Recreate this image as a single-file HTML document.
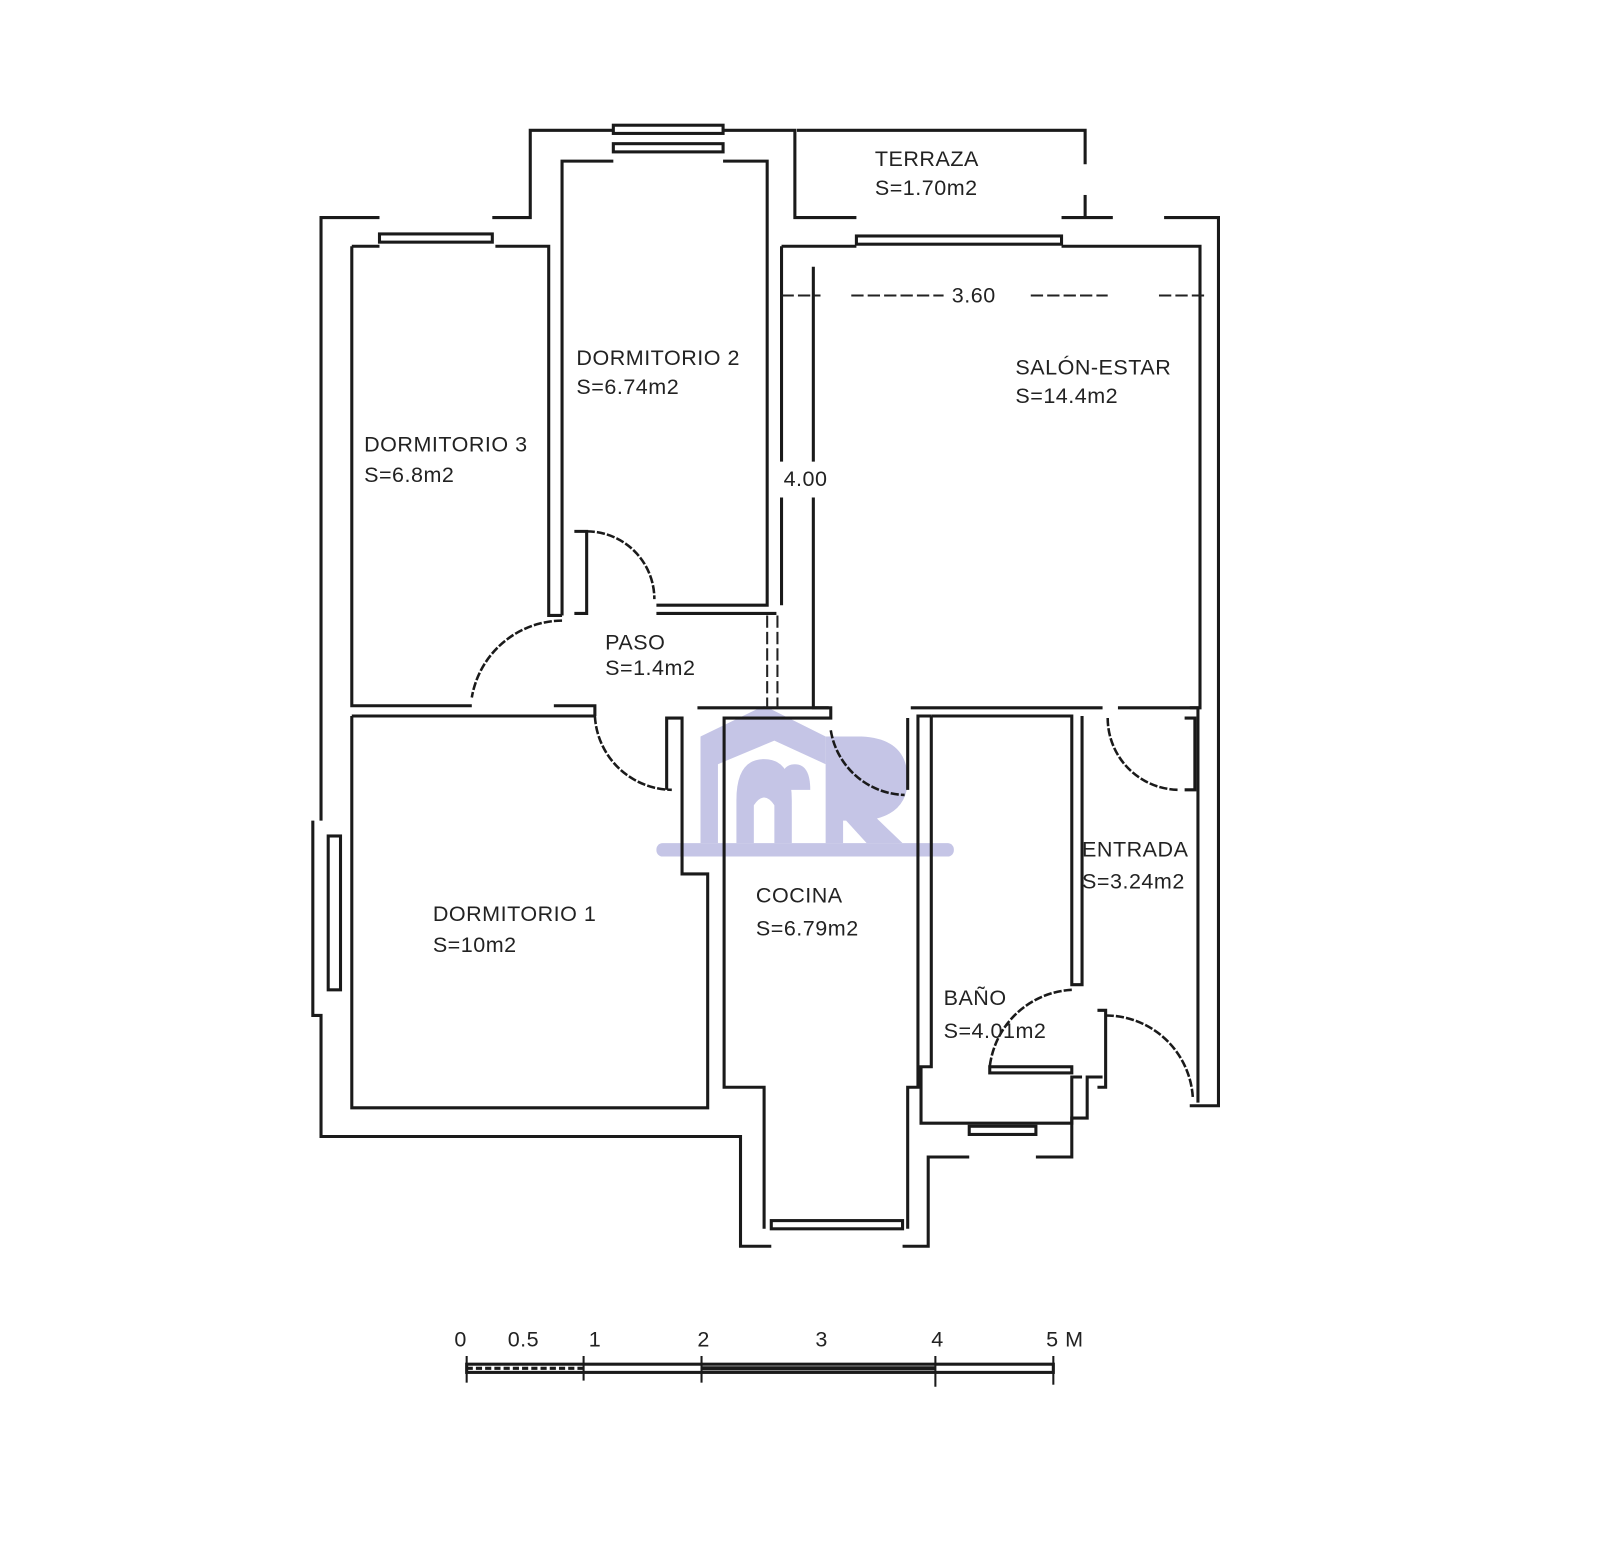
<!DOCTYPE html>
<html><head><meta charset="utf-8"><style>
html,body{margin:0;padding:0;background:#fff}
svg{display:block}
text{font-family:"Liberation Sans",sans-serif;fill:#222;font-size:21px;letter-spacing:0.5px}
</style></head><body>
<svg width="1600" height="1553" viewBox="0 0 1560 1514" xmlns="http://www.w3.org/2000/svg">
<rect width="1560" height="1514" fill="#fff"/>
<!-- watermark -->
<g fill="#c5c5e6">
<rect x="640" y="822" width="290" height="13" rx="6"/>
<path d="M683 822 V718 L745 688 L805 718 V745 L755 722 L700 745 V822 Z"/>
<path d="M718 822 V780 Q718 740 745 740 Q772 740 772 780 V822 H755 V785 Q745 770 735 785 V822 Z"/>
<path d="M760 770 Q760 745 775 745 Q790 745 790 770 Z"/>
<path d="M805 718 H840 Q885 720 885 760 Q885 790 855 798 L880 822 H845 L825 800 H822 V822 H805 Z"/>
</g>
<g fill="none" stroke="#1a1a1a" stroke-width="3" stroke-linejoin="miter">
<polyline points="313,800 313,212 370,212"/>
<polyline points="480,212 483,212 483,212 517,212 517,127 598,127"/>
<polyline points="705,127 775,127 775,212 835,212"/>
<polyline points="777,127 1058,127 1058,160"/>
<polyline points="1058,190 1058,212"/>
<polyline points="1035,212 1085,212"/>
<polyline points="1135,212 1188,212 1188,1078 1160,1078"/>
<polyline points="305,800 305,990 313,990 313,1108 722,1108 722,1215 752,1215"/>
<polyline points="880,1215 905,1215 905,1128 945,1128"/>
<polyline points="1010,1128 1045,1128 1045,1090 1060,1090 1060,1050 1075,1050"/>
<rect x="370" y="228" width="110" height="8"/>
<rect x="598" y="122" width="107" height="8"/>
<rect x="598" y="140" width="107" height="8"/>
<rect x="835" y="230" width="200" height="8"/>
<rect x="752" y="1190" width="128" height="8"/>
<rect x="945" y="1098" width="65" height="8"/>
<rect x="320" y="815" width="12" height="150"/>
<polyline points="483,240 535,240 535,600 548,600"/>
<polyline points="343,240 370,240"/>
<polyline points="343,240 343,688 460,688"/>
<polyline points="540,688 580,688 580,698"/>
<polyline points="548,600 548,157 598,157"/>
<polyline points="705,157 748,157 748,590 640,590"/>
<polyline points="560,518 572,518 572,598 560,598"/>
<polyline points="640,598 757,598"/>
<polyline points="343,698 580,698"/>
<polyline points="343,698 343,1080 690,1080 690,852 665,852 665,700 650,700 650,770"/>
<polyline points="762,240 835,240"/>
<polyline points="1035,240 1170,240 1170,690 1090,690"/>
<polyline points="762,240 762,450"/>
<polyline points="762,485 762,590"/>
<polyline points="793,260 793,450"/>
<polyline points="793,485 793,690 808,690"/>
<polyline points="888,690 1075,690"/>
<polyline points="680,690 810,690 810,700 706,700 706,1060 745,1060 745,1198"/>
<polyline points="885,700 885,770"/>
<polyline points="885,1198 885,1060 895,1060 895,698 908,698"/>
<polyline points="908,698 908,1040 898,1040 898,1095 1045,1095 1045,1050 1055,1050"/>
<polyline points="908,698 1045,698 1045,960 1055,960 1055,698"/>
<rect x="965" y="1040" width="80" height="6"/>
<polyline points="1160,690 1168,690 1168,1075"/>
<polyline points="1070,985 1078,985 1078,1060 1070,1060"/>
<polyline points="1155,700 1165,700 1165,770 1155,770"/>
</g>
<g fill="none" stroke="#1a1a1a" stroke-width="2.5" stroke-dasharray="8 2">
<path d="M572 518 A66 66 0 0 1 638 584"/>
<path d="M548 605 A90 90 0 0 0 460 680"/>
<path d="M580 698 A76 76 0 0 0 655 770"/>
<path d="M810 712 A75 75 0 0 0 882 775"/>
<path d="M1045 965 A85 85 0 0 0 965 1040"/>
<path d="M1080 700 A70 70 0 0 0 1150 770"/>
<path d="M1078 990 A85 85 0 0 1 1163 1070"/>
</g>
<g stroke="#222" stroke-width="2" stroke-dasharray="12 4" fill="none">
<line x1="762" y1="288" x2="800" y2="288"/>
<line x1="830" y1="288" x2="920" y2="288"/>
<line x1="1005" y1="288" x2="1080" y2="288"/>
<line x1="1130" y1="288" x2="1175" y2="288"/>
<line x1="748" y1="600" x2="748" y2="690"/>
<line x1="758" y1="600" x2="758" y2="690"/>
</g>
<text x="853" y="162">TERRAZA</text>
<text x="853" y="190">S=1.70m2</text>
<text x="928" y="295">3.60</text>
<text x="990" y="365">SALÓN-ESTAR</text>
<text x="990" y="393">S=14.4m2</text>
<text x="562" y="356">DORMITORIO 2</text>
<text x="562" y="384">S=6.74m2</text>
<text x="355" y="440">DORMITORIO 3</text>
<text x="355" y="470">S=6.8m2</text>
<text x="764" y="474">4.00</text>
<text x="590" y="633">PASO</text>
<text x="590" y="658">S=1.4m2</text>
<text x="1055" y="835">ENTRADA</text>
<text x="1055" y="866">S=3.24m2</text>
<text x="422" y="898">DORMITORIO 1</text>
<text x="422" y="928">S=10m2</text>
<text x="737" y="880">COCINA</text>
<text x="737" y="912">S=6.79m2</text>
<text x="920" y="980">BAÑO</text>
<text x="920" y="1012">S=4.01m2</text>
<g font-size="22">
<text x="443" y="1313">0</text><text x="495" y="1313">0.5</text><text x="574" y="1313">1</text>
<text x="680" y="1313">2</text><text x="795" y="1313">3</text><text x="908" y="1313">4</text><text x="1020" y="1313">5 M</text>
</g>
<g stroke="#1a1a1a" fill="none">
<rect x="455" y="1330" width="572" height="8" stroke-width="3"/>
<line x1="455" y1="1322" x2="455" y2="1348" stroke-width="2"/>
<line x1="569" y1="1322" x2="569" y2="1346" stroke-width="2"/>
<line x1="684" y1="1322" x2="684" y2="1348" stroke-width="2"/>
<line x1="912" y1="1322" x2="912" y2="1352" stroke-width="2"/>
<line x1="1027" y1="1322" x2="1027" y2="1350" stroke-width="2"/>
<line x1="455" y1="1334" x2="569" y2="1334" stroke-width="3" stroke-dasharray="6 3"/>
<line x1="684" y1="1334" x2="912" y2="1334" stroke-width="4"/>
</g>
</svg>
</body></html>
